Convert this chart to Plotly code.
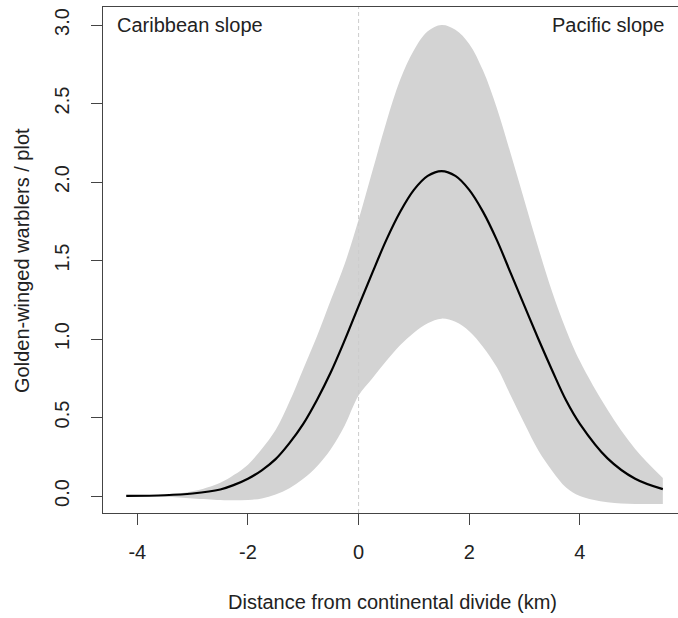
import plotly.graph_objects as go

# Distance from continental divide (km)
distance_km = [-4.2, -3.5, -3.0, -2.5, -2.25, -2.0, -1.75, -1.5, -1.25,
               -1.0, -0.75, -0.5, -0.25, 0.0, 0.25, 0.5, 0.75, 1.0, 1.25, 1.5,
               1.75, 2.0, 2.25, 2.5, 2.75, 3.0, 3.25, 3.5, 3.75, 4.0,
               4.5, 5.0, 5.5]
# Predicted warblers per plot (mean) and confidence band
mean_abund = [0.001, 0.005, 0.016, 0.042, 0.071, 0.11, 0.164, 0.235, 0.337,
              0.46, 0.614, 0.79, 0.993, 1.21, 1.423, 1.63, 1.809, 1.95, 2.039, 2.07,
              2.039, 1.95, 1.81, 1.63, 1.42, 1.21, 1.00, 0.80, 0.61, 0.46,
              0.24, 0.11, 0.044]
upper_ci = [0.002, 0.01, 0.03, 0.085, 0.135, 0.20, 0.30, 0.42, 0.60,
            0.81, 1.02, 1.25, 1.48, 1.76, 2.07, 2.38, 2.65, 2.84, 2.96, 3.00,
            2.97, 2.88, 2.71, 2.47, 2.18, 1.88, 1.58, 1.30, 1.06, 0.86,
            0.55, 0.30, 0.115]
lower_ci = [0.0, -0.005, -0.015, -0.025, -0.027, -0.025, -0.015, 0.01, 0.05,
            0.11, 0.19, 0.30, 0.45, 0.64, 0.75, 0.86, 0.96, 1.04, 1.10, 1.13,
            1.11, 1.05, 0.95, 0.82, 0.64, 0.46, 0.29, 0.16, 0.055, 0.0,
            -0.04, -0.05, -0.05]

x_ticks = [-4, -2, 0, 2, 4]
x_ticklabels = ["-4", "-2", "0", "2", "4"]
y_ticks = [0.0, 0.5, 1.0, 1.5, 2.0, 2.5, 3.0]
y_ticklabels = ["0.0", "0.5", "1.0", "1.5", "2.0", "2.5", "3.0"]

FONT = "Liberation Sans, Arial, Helvetica, sans-serif"
FS = 20
TXT = "#222222"

fig = go.Figure()
fig.add_trace(go.Scatter(x=distance_km, y=lower_ci, mode="lines",
                         line=dict(width=0, shape="spline", smoothing=1.0),
                         hoverinfo="skip", showlegend=False))
fig.add_trace(go.Scatter(x=distance_km, y=upper_ci, mode="lines",
                         line=dict(width=0, shape="spline", smoothing=1.0),
                         fill="tonexty", fillcolor="#d3d3d3",
                         hoverinfo="skip", showlegend=False))
fig.add_trace(go.Scatter(x=[0, 0], y=[-0.108, 3.115], mode="lines",
                         line=dict(color="#cccccc", width=1, dash="4px,3px"),
                         hoverinfo="skip", showlegend=False))
fig.add_trace(go.Scatter(x=distance_km, y=mean_abund, mode="lines",
                         line=dict(color="black", width=2.2, shape="spline", smoothing=1.0),
                         showlegend=False))

axis_common = dict(showgrid=False, zeroline=False, showline=True, linecolor="#444444",
                   linewidth=1, ticks="outside", ticklen=11, tickwidth=1,
                   tickcolor="#444444", automargin=False,
                   tickfont=dict(family=FONT, size=FS, color=TXT))

fig.update_xaxes(range=[-4.62, 5.774], tickvals=x_ticks, ticktext=x_ticklabels,
                 mirror=True, ticklabelstandoff=10, **axis_common)
fig.update_yaxes(range=[-0.108, 3.115], tickvals=y_ticks, ticktext=y_ticklabels,
                 tickangle=-90, ticklabelstandoff=14, **axis_common)

fig.add_annotation(text="Distance from continental divide (km)", xref="x", yref="paper",
                   x=0.62, y=-0.176, showarrow=False, xanchor="center", yanchor="middle",
                   font=dict(family=FONT, size=FS, color=TXT))
fig.add_annotation(text="Golden-winged warblers / plot", xref="paper", yref="paper",
                   x=-0.1409, y=0.5, showarrow=False, textangle=-90,
                   xanchor="center", yanchor="middle",
                   font=dict(family=FONT, size=FS, color=TXT))
fig.add_annotation(text="Caribbean slope", xref="paper", yref="paper",
                   x=0.021, y=0.964, showarrow=False, xanchor="left", yanchor="middle",
                   font=dict(family=FONT, size=FS, color=TXT))
fig.add_annotation(text="Pacific slope", xref="paper", yref="paper",
                   x=0.979, y=0.964, showarrow=False, xanchor="right", yanchor="middle",
                   font=dict(family=FONT, size=FS, color=TXT))

fig.update_layout(width=678, height=618, margin=dict(l=103, r=0, t=7, b=105),
                  plot_bgcolor="white", paper_bgcolor="white", showlegend=False)

fig.write_html("out.html", config={"displayModeBar": False},
               post_script="document.body.style.margin='0px';"
                           "document.body.style.overflow='hidden';")
